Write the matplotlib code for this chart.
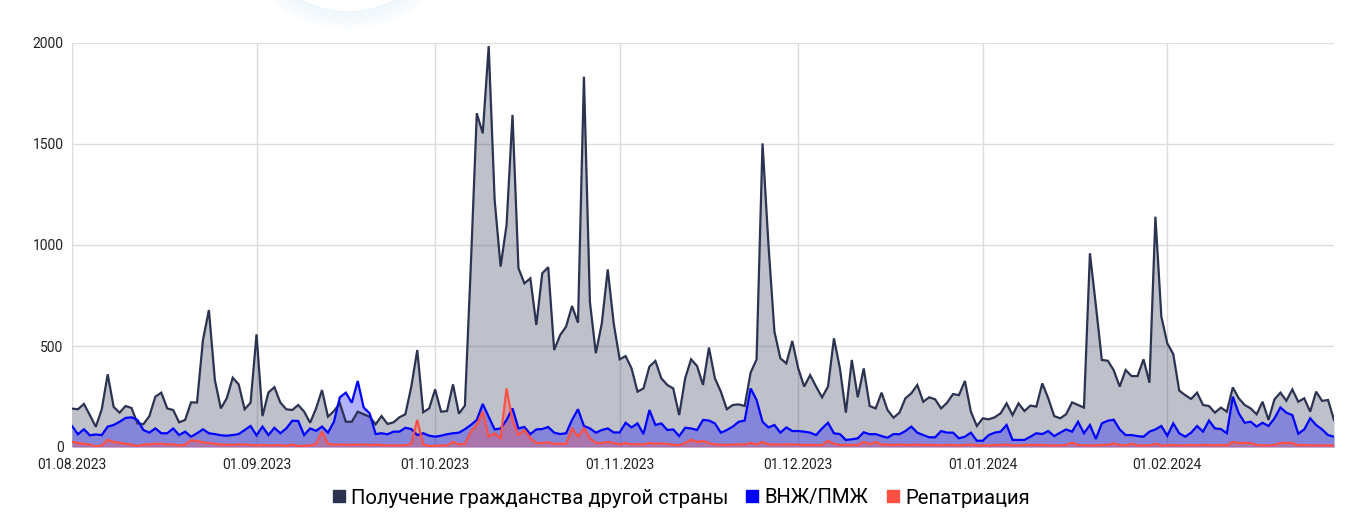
import pandas as pd
import matplotlib
matplotlib.use('Agg')
import matplotlib.pyplot as plt
import matplotlib.dates as mdates
from matplotlib.lines import Line2D
from matplotlib.patches import Arc

plt.rcParams['font.family'] = ['Roboto', 'DejaVu Sans']

# ежедневные значения, 01.08.2023 - 29.02.2024
dates = pd.date_range('2023-08-01', '2024-02-29', freq='D')

citizenship = [
    190, 187, 213, 158, 100, 187, 360, 198, 170, 203, 193, 117, 113, 153, 249, 269,
    191, 183, 122, 134, 221, 220, 530, 678, 332, 191, 241, 343, 310, 187, 219, 558,
    153, 270, 296, 220, 187, 183, 208, 175, 120, 191, 282, 150, 178, 216, 125, 125,
    175, 162, 150, 112, 153, 114, 122, 147, 162, 299, 480, 172, 191, 285, 175, 178,
    310, 165, 205, 900, 1652, 1553, 1985, 1223, 893, 1099, 1644, 885, 810, 835, 604, 860,
    890, 480, 554, 596, 698, 615, 1833, 719, 464, 612, 879, 612, 434, 450, 389, 274,
    290, 398, 426, 340, 307, 290, 158, 340, 434, 401, 307, 492, 340, 274, 187, 208,
    211, 203, 368, 434, 1503, 1000, 571, 439, 414, 525, 389, 299, 356, 299, 246, 299,
    538, 389, 170, 431, 246, 389, 203, 191, 269, 183, 145, 170, 241, 266, 307, 224,
    246, 236, 191, 219, 262, 257, 327, 175, 104, 142, 137, 147, 167, 216, 158, 216,
    178, 205, 200, 315, 241, 153, 142, 162, 221, 208, 195, 959, 700, 431, 427, 380,
    299, 381, 351, 351, 434, 318, 1140, 645, 513, 460, 279, 257, 238, 269, 208, 203,
    170, 195, 175, 295, 241, 208, 191, 162, 224, 134, 236, 269, 229, 285, 224, 241,
    175, 274, 228, 233, 134,
]

residence = [
    104, 63, 88, 58, 62, 59, 101, 109, 125, 144, 147, 134, 84, 71, 92, 68,
    68, 92, 59, 76, 51, 68, 88, 68, 64, 58, 56, 59, 64, 84, 104, 58,
    101, 59, 95, 68, 92, 130, 129, 59, 92, 80, 101, 71, 125, 246, 269, 219,
    327, 195, 167, 64, 68, 63, 76, 76, 95, 89, 59, 68, 56, 51, 56, 63,
    68, 71, 88, 109, 134, 213, 150, 87, 92, 134, 191, 92, 99, 64, 87, 89,
    99, 71, 64, 68, 134, 187, 104, 92, 71, 84, 92, 72, 72, 120, 97, 117,
    64, 183, 109, 117, 84, 87, 54, 95, 92, 84, 134, 131, 117, 71, 84, 101,
    125, 131, 290, 233, 125, 97, 109, 71, 97, 79, 79, 76, 71, 59, 92, 120,
    68, 64, 35, 38, 43, 73, 63, 64, 54, 46, 64, 63, 79, 101, 71, 59,
    48, 48, 79, 71, 71, 43, 51, 71, 31, 31, 59, 71, 76, 109, 35, 35,
    35, 51, 68, 64, 79, 54, 71, 87, 76, 125, 68, 109, 40, 117, 130, 135,
    87, 59, 59, 54, 51, 76, 87, 104, 56, 117, 68, 51, 71, 104, 76, 131,
    92, 89, 68, 249, 167, 120, 125, 101, 120, 104, 142, 196, 170, 158, 66, 87,
    142, 109, 87, 59, 51,
]

repatriation = [
    26, 20, 16, 12, 3, 8, 36, 25, 21, 16, 12, 5, 12, 13, 16, 16,
    13, 13, 7, 12, 33, 30, 23, 20, 16, 12, 12, 10, 13, 12, 10, 8,
    10, 8, 8, 10, 5, 12, 5, 6, 8, 16, 76, 16, 12, 12, 12, 10,
    12, 12, 10, 12, 10, 8, 8, 8, 8, 16, 134, 13, 5, 6, 8, 8,
    25, 13, 16, 76, 109, 175, 51, 68, 43, 290, 130, 60, 84, 43, 20, 20,
    23, 16, 16, 16, 92, 51, 92, 43, 20, 20, 25, 20, 13, 20, 13, 15,
    12, 20, 16, 18, 15, 12, 8, 20, 36, 25, 30, 20, 12, 12, 10, 12,
    13, 12, 20, 13, 25, 13, 12, 12, 13, 12, 12, 10, 10, 10, 10, 30,
    16, 10, 10, 10, 10, 25, 15, 25, 12, 12, 10, 12, 10, 10, 12, 10,
    10, 10, 8, 10, 10, 8, 10, 12, 8, 8, 8, 10, 10, 12, 8, 8,
    10, 10, 10, 10, 8, 8, 8, 10, 21, 10, 8, 8, 8, 10, 10, 18,
    10, 8, 16, 8, 8, 8, 16, 8, 8, 10, 8, 8, 10, 8, 10, 10,
    8, 10, 8, 25, 20, 20, 20, 10, 8, 8, 10, 20, 20, 20, 8, 10,
    8, 8, 8, 8, 8,
]

labels = ['Получение гражданства другой страны', 'ВНЖ/ПМЖ', 'Репатриация']
colors = ['#2b3350', '#0000ff', '#ff5046']
month_ticks = pd.date_range('2023-08-01', '2024-02-01', freq='MS')

fig = plt.figure(figsize=(13.6, 5.23), dpi=100)

# бледный водяной знак сверху
bg = fig.add_axes([0, 0, 1, 1], zorder=-1)
bg.set_xlim(0, 1360)
bg.set_ylim(523, 0)
bg.axis('off')
for i, r in enumerate(range(78, 96, 2)):
    bg.add_patch(Arc((348, -66), 2 * r * 1.12, 2 * r, theta1=0, theta2=360,
                     color='#e6f3fc', lw=1.0, alpha=0.9 - i * 0.08))

ax = fig.add_axes([72 / 1360, 76 / 523, 1262 / 1360, 404 / 523])

for vals, col in zip([citizenship, residence, repatriation], colors):
    ax.fill_between(dates, vals, 0, color=col, alpha=0.3, lw=0)
    ax.plot(dates, vals, color=col, lw=1.6, solid_joinstyle='miter')

ax.set_xlim(dates[0], dates[-1])
ax.set_ylim(0, 2000)
ax.set_yticks([0, 500, 1000, 1500, 2000])
ax.set_xticks(month_ticks)
ax.xaxis.set_major_formatter(mdates.DateFormatter('%d.%m.%Y'))
ax.tick_params(length=0, labelsize=10, colors='#222222')
ax.tick_params(axis='x', pad=8)
ax.tick_params(axis='y', pad=6)
ax.grid(True, color='#dcdcdc', lw=1)
ax.set_axisbelow(True)
for s in ax.spines.values():
    s.set_visible(False)

handles = [Line2D([], [], marker='s', ls='', color=c, markersize=8) for c in colors]
fig.legend(handles, labels, loc='center', bbox_to_anchor=(0.5, 25 / 523), ncol=3,
           frameon=False, fontsize=14.6, handletextpad=0.2, columnspacing=0.8,
           handlelength=0.8)

fig.savefig('out.png', dpi=100)
